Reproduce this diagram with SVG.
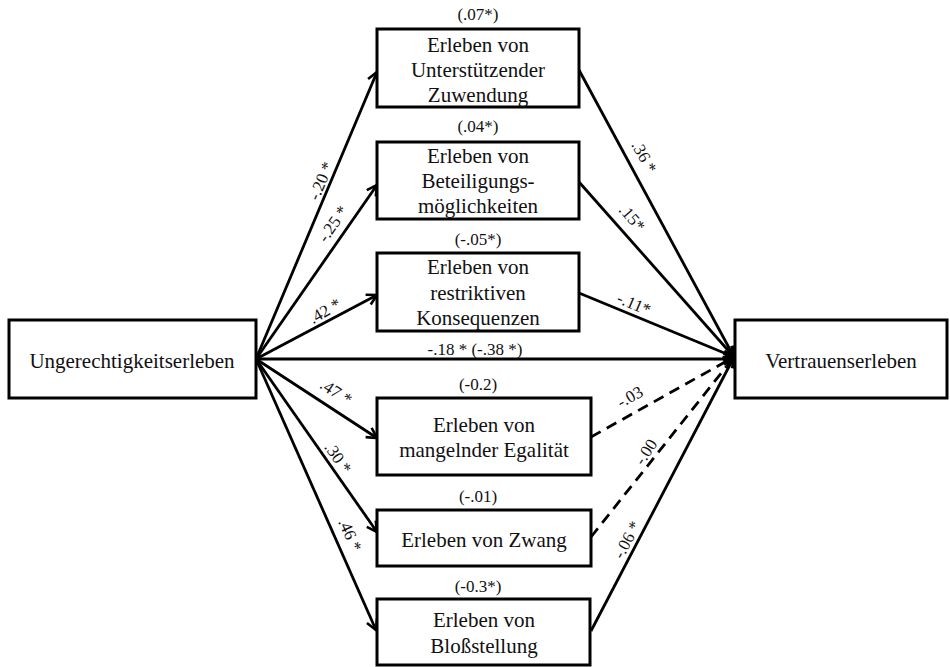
<svg xmlns="http://www.w3.org/2000/svg" width="950" height="667" viewBox="0 0 950 667">
  <style>
    .box { fill: #ffffff; stroke: #000000; stroke-width: 3; }
    text { font-family: "Liberation Serif", "Times New Roman", serif; fill: #111111; text-anchor: middle; }
    .t { font-size: 21px; }
    .lbl { font-size: 17px; }
    .rl { font-size: 17px; dominant-baseline: central; }
    .edge { fill: none; stroke: #000000; stroke-width: 2.8; marker-end: url(#arr); }
    .dash { stroke-dasharray: 11 7; }
  </style>
  <defs>
    <!-- open chevron arrowhead -->
    <marker id="arr" markerUnits="userSpaceOnUse" markerWidth="16" markerHeight="16" refX="12" refY="7" orient="auto">
      <path d="M2,1.5 L12,7 L2,12.5" fill="none" stroke="#000000" stroke-width="2.6" stroke-linejoin="miter"/>
    </marker>
  </defs>

  <rect width="950" height="667" fill="#ffffff"/>

  <!-- connectors -->
  <g id="connectors">
    <line class="edge" x1="256" y1="359" x2="377" y2="72"/>
    <line class="edge" x1="256" y1="359" x2="377" y2="185"/>
    <line class="edge" x1="256" y1="359" x2="377" y2="295"/>
    <line class="edge" x1="256" y1="359" x2="734" y2="359"/>
    <line class="edge" x1="256" y1="359" x2="377" y2="438"/>
    <line class="edge" x1="256" y1="359" x2="377" y2="532"/>
    <line class="edge" x1="256" y1="359" x2="376" y2="630"/>

    <line class="edge" x1="579" y1="70" x2="734" y2="357"/>
    <line class="edge" x1="579" y1="182" x2="734" y2="357"/>
    <line class="edge" x1="579" y1="293" x2="734" y2="357"/>
    <line class="edge dash" x1="591" y1="437" x2="734" y2="357"/>
    <line class="edge dash" x1="591" y1="537" x2="734" y2="357"/>
    <line class="edge" x1="591" y1="631" x2="734" y2="357"/>

    <!-- path coefficients -->
    <text class="rl" transform="translate(321,181) rotate(-67)">-.20 *</text>
    <text class="rl" transform="translate(333,224) rotate(-55)">-.25 *</text>
    <text class="rl" transform="translate(325,311) rotate(-30)">.42 *</text>
    <text class="lbl" x="475" y="355">-.18 * (-.38 *)</text>
    <text class="rl" transform="translate(336,392) rotate(33)">.47 *</text>
    <text class="rl" transform="translate(338,458) rotate(55)">.30 *</text>
    <text class="rl" transform="translate(350,535) rotate(66)">.46 *</text>

    <text class="rl" transform="translate(644,157) rotate(61)">.36 *</text>
    <text class="rl" transform="translate(632,218) rotate(49)">.15*</text>
    <text class="rl" transform="translate(634,304) rotate(23)">-.11*</text>
    <text class="rl" transform="translate(630,397) rotate(-29)">-.03</text>
    <text class="rl" transform="translate(646,452) rotate(-56)">-.00</text>
    <text class="rl" transform="translate(627,540) rotate(-62)">-.06 *</text>

    <!-- indirect effects -->
    <text class="lbl" x="478" y="20">(.07*)</text>
    <text class="lbl" x="478" y="132">(.04*)</text>
    <text class="lbl" x="478" y="245">(-.05*)</text>
    <text class="lbl" x="478" y="390">(-0.2)</text>
    <text class="lbl" x="478" y="502">(-.01)</text>
    <text class="lbl" x="478" y="592">(-0.3*)</text>
  </g>

  <!-- nodes -->
  <g id="ungerechtigkeit">
    <rect class="box" x="9" y="320" width="247" height="78"/>
    <text class="t" x="132" y="368">Ungerechtigkeitserleben</text>
  </g>

  <g id="vertrauen">
    <rect class="box" x="735" y="320" width="212" height="78"/>
    <text class="t" x="841" y="368">Vertrauenserleben</text>
  </g>

  <g id="zuwendung">
    <rect class="box" x="377" y="29" width="202" height="78"/>
    <text class="t" x="478" y="52">Erleben von</text>
    <text class="t" x="478" y="77">Unterstützender</text>
    <text class="t" x="478" y="102">Zuwendung</text>
  </g>

  <g id="beteiligung">
    <rect class="box" x="377" y="142" width="202" height="77"/>
    <text class="t" x="478" y="163">Erleben von</text>
    <text class="t" x="478" y="188">Beteiligungs-</text>
    <text class="t" x="478" y="213">möglichkeiten</text>
  </g>

  <g id="konsequenzen">
    <rect class="box" x="377" y="253" width="202" height="78"/>
    <text class="t" x="478" y="274">Erleben von</text>
    <text class="t" x="478" y="300">restriktiven</text>
    <text class="t" x="478" y="325">Konsequenzen</text>
  </g>

  <g id="egalitaet">
    <rect class="box" x="377" y="398" width="214" height="77"/>
    <text class="t" x="484" y="432">Erleben von</text>
    <text class="t" x="484" y="457">mangelnder Egalität</text>
  </g>

  <g id="zwang">
    <rect class="box" x="377" y="510" width="214" height="56"/>
    <text class="t" x="484" y="547">Erleben von Zwang</text>
  </g>

  <g id="blossstellung">
    <rect class="box" x="377" y="599" width="213" height="66"/>
    <text class="t" x="484" y="627">Erleben von</text>
    <text class="t" x="484" y="653">Bloßstellung</text>
  </g>
</svg>
